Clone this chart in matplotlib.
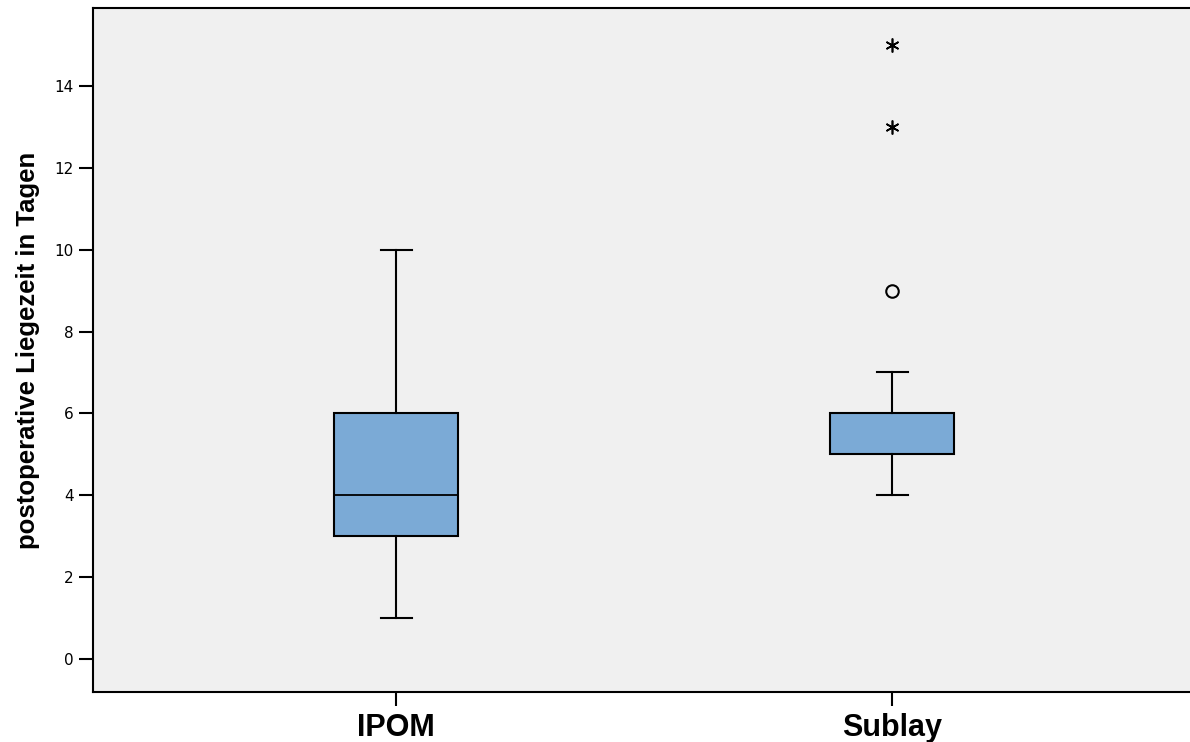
import matplotlib
matplotlib.use("Agg")
import matplotlib.pyplot as plt

categories = ["IPOM", "Sublay"]
q1 = [3, 5]
median = [4, 5]
q3 = [6, 6]
whisker_low = [1, 4]
whisker_high = [10, 7]
outliers = [[], [9]]
extremes = [[], [13, 15]]
yticks = [0, 2, 4, 6, 8, 10, 12, 14]

fig = plt.figure(figsize=(11.9, 7.42), dpi=100)
ax = fig.add_axes([93/1190, 50/742, 1 - 93/1190, (692 - 8)/742])
ax.set_facecolor("#F0F0F0")

positions = [1, 2]
stats = []
for i, c in enumerate(categories):
    stats.append(dict(label=c, q1=q1[i], med=median[i], q3=q3[i],
                      whislo=whisker_low[i], whishi=whisker_high[i],
                      fliers=outliers[i]))

ax.bxp(stats, positions=positions, widths=0.25, patch_artist=True,
       showfliers=True,
       boxprops=dict(facecolor="#7BAAD6", edgecolor="black", linewidth=1.5),
       medianprops=dict(color="black", linewidth=1.3),
       whiskerprops=dict(color="black", linewidth=1.5),
       capprops=dict(color="black", linewidth=1.5),
       capwidths=0.0625,
       flierprops=dict(marker="o", markerfacecolor="none", markeredgecolor="black",
                       markersize=9, markeredgewidth=1.5))

for p, ext in zip(positions, extremes):
    if ext:
        ax.plot([p] * len(ext), ext, linestyle="none", marker=(6, 2, 0),
                color="black", markersize=10, markeredgewidth=1.2)

ax.set_xlim(1 - 303/496, 2 + 298/496)
ax.set_ylim(-33/40.93, 651/40.93)
ax.set_yticks(yticks)
ax.set_yticklabels([str(t) for t in yticks], fontsize=11,
                   family=["DejaVu Sans"])
ax.set_xticks(positions)
ax.set_xticklabels(categories, fontsize=22, fontweight="bold",
                   family=["Liberation Sans", "DejaVu Sans"])
ax.tick_params(axis="y", direction="out", length=10, width=1.5, pad=4)
ax.tick_params(axis="x", direction="out", length=10, width=1.5, pad=5)

ax.spines["right"].set_visible(False)
for s in ["left", "top", "bottom"]:
    ax.spines[s].set_linewidth(1.5)

ax.set_ylabel("postoperative Liegezeit in Tagen", fontsize=18.5, fontweight="bold",
              family=["Liberation Sans Narrow", "Liberation Sans", "DejaVu Sans"],
              labelpad=10)

fig.savefig("out.png", dpi=100, facecolor="white")
